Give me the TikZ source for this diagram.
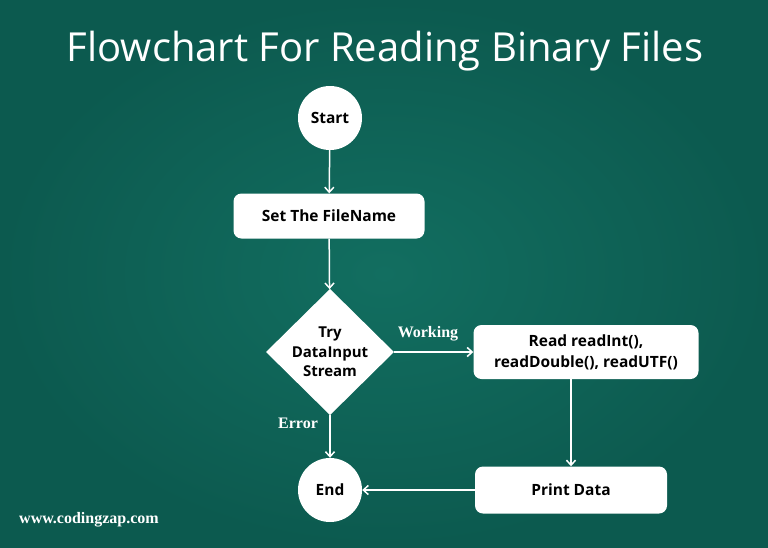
\documentclass[tikz,border=0pt]{standalone}
\usepackage{fontspec}
\setmainfont{Open Sans}
\newfontfamily\titlefont{Open Sans}
\newfontfamily\labelfont{Liberation Serif}
\usetikzlibrary{shapes.geometric,arrows.meta}
\definecolor{board}{RGB}{18,110,96}
\definecolor{boarddark}{RGB}{12,90,79}
\begin{document}
\begin{tikzpicture}[x=1pt,y=-1pt,
  every node/.style={font=\bfseries\fontsize{15.5}{20}\selectfont,text=black},
  term/.style={circle,fill=white,minimum size=64pt,inner sep=0pt},
  proc/.style={rectangle,rounded corners=8pt,fill=white,inner sep=0pt,align=center},
  deci/.style={diamond,fill=white,minimum width=128pt,minimum height=126pt,inner sep=0pt,align=center,font=\bfseries\fontsize{15}{19.5}\selectfont},
  lab/.style={text=white,font=\labelfont\bfseries\fontsize{16}{18}\selectfont},
  conn/.style={draw=white,line width=1.5pt,-{Straight Barb[length=5pt,width=9pt,line width=1.5pt]}}]
\useasboundingbox (0,0) rectangle (768,547);
\shade[inner color=board, outer color=boarddark] (0,0) rectangle (768,547);
\node[text=white,font=\titlefont\fontsize{40}{46}\selectfont] (title) at (385,51) {Flowchart For Reading Binary Files};
\node[term] (start) at (330,118) {Start};
\node[proc,minimum width=191pt,minimum height=45pt] (set) at (329,216) {Set The FileName};
\node[deci] (try) at (330,352) {Try\\DataInput\\Stream};
\node[proc,minimum width=225pt,minimum height=54pt,font=\bfseries\fontsize{15.5}{21}\selectfont] (read) at (586,352) {Read readInt(),\\readDouble(), readUTF()};
\node[proc,minimum width=192pt,minimum height=47pt] (print) at (571,490) {Print Data};
\node[term] (end) at (330,490) {End};
\draw[conn] (start) -- (set);
\draw[conn] (set) -- (try);
\draw[conn] (try.east) -- (read.west);
\draw[conn] (read.south -| print.north) -- (print.north);
\draw[conn] (print.west) -- (end.east);
\draw[conn] (try.south) -- (end.north);
\node[lab] (working) at (428,334) {Working};
\node[lab] (error) at (298,423) {Error};
\node[lab] (site) at (89,520) {www.codingzap.com};
\end{tikzpicture}
\end{document}
